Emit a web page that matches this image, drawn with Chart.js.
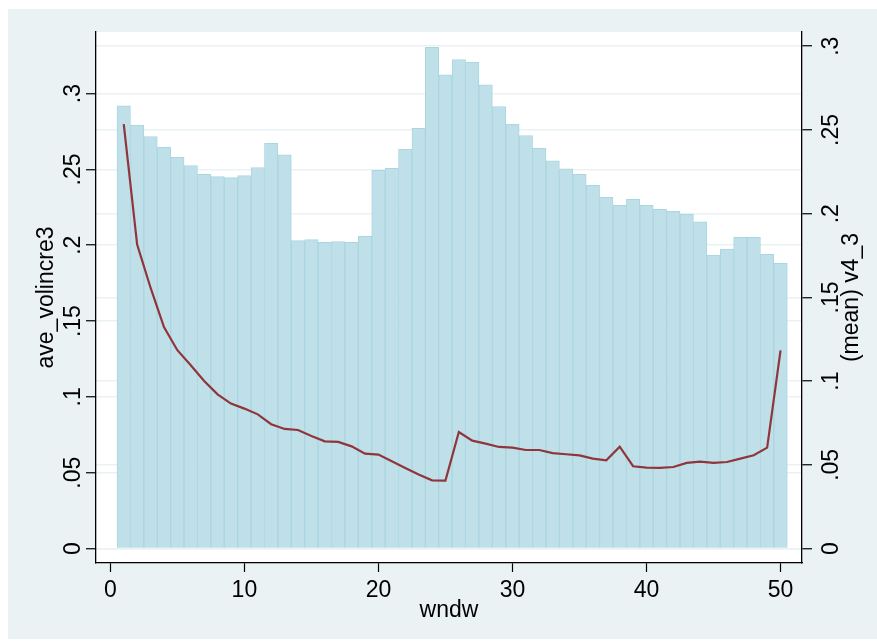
<!DOCTYPE html>
<html>
<head>
<meta charset="utf-8">
<script src="https://cdn.jsdelivr.net/npm/chart.js@4.4.1/dist/chart.umd.min.js"></script>
<style>
  body { margin: 0; background: #ffffff; }
  canvas { display: block; }
</style>
</head>
<body>
<canvas id="myChart" width="877" height="644"></canvas>
<script>
// window number (x axis)
var wndw = [1, 2, 3, 4, 5, 6, 7, 8, 9, 10,
            11, 12, 13, 14, 15, 16, 17, 18, 19, 20,
            21, 22, 23, 24, 25, 26, 27, 28, 29, 30,
            31, 32, 33, 34, 35, 36, 37, 38, 39, 40,
            41, 42, 43, 44, 45, 46, 47, 48, 49, 50];

// bars: (mean) v4_3, right axis
var meanV4 = [0.2644, 0.2529, 0.2461, 0.2396, 0.2336, 0.2288, 0.2235, 0.2221, 0.2215, 0.2227,
              0.2276, 0.2420, 0.2352, 0.1839, 0.1845, 0.1829, 0.1833, 0.1829, 0.1865, 0.2259,
              0.2271, 0.2384, 0.2509, 0.2994, 0.2829, 0.2921, 0.2905, 0.2769, 0.2640, 0.2535,
              0.2467, 0.2390, 0.2316, 0.2268, 0.2235, 0.2169, 0.2097, 0.2050, 0.2086, 0.2050,
              0.2026, 0.2014, 0.1996, 0.1952, 0.1753, 0.1789, 0.1859, 0.1859, 0.1758, 0.1704];

// line: ave_volincre3, left axis
var aveVol = [0.2798, 0.2004, 0.1720, 0.1461, 0.1308, 0.1209, 0.1105, 0.1017, 0.0956, 0.0923,
              0.0885, 0.0820, 0.0789, 0.0782, 0.0743, 0.0707, 0.0703, 0.0674, 0.0626, 0.0620,
              0.0576, 0.0532, 0.0488, 0.0450, 0.0448, 0.0769, 0.0712, 0.0692, 0.0670, 0.0666,
              0.0650, 0.0650, 0.0630, 0.0622, 0.0615, 0.0593, 0.0582, 0.0672, 0.0543, 0.0534,
              0.0532, 0.0538, 0.0565, 0.0574, 0.0565, 0.0571, 0.0593, 0.0615, 0.0666, 0.1307];

var xTicks = [0, 10, 20, 30, 40, 50];
var xTickLabels = ['0', '10', '20', '30', '40', '50'];
var yTicks = [0, 0.05, 0.1, 0.15, 0.2, 0.25, 0.3];
var yTickLabels = ['0', '.05', '.1', '.15', '.2', '.25', '.3'];

var FONT = '23px "Liberation Sans", Arial, sans-serif';
var BG = '#eaf2f3';

function fixTicks(values) {
    return function (axis) {
        axis.ticks = values.map(function (v) { return { value: v }; });
    };
}

// stata style background and rotated axis text
var stataLook = {
    id: 'stataLook',
    beforeDraw: function (chart) {
        var ctx = chart.ctx, a = chart.chartArea;
        ctx.save();
        ctx.fillStyle = '#ffffff';
        ctx.fillRect(0, 0, chart.width, chart.height);
        ctx.fillStyle = BG;
        ctx.fillRect(8, 9, chart.width - 8, 630);
        ctx.fillStyle = '#ffffff';
        ctx.fillRect(a.left, a.top, a.right - a.left, a.bottom - a.top);
        ctx.restore();
    },
    afterDraw: function (chart) {
        var ctx = chart.ctx, a = chart.chartArea;
        var sx = chart.scales.x, yl = chart.scales.yL, yr = chart.scales.yR;
        var midY = (a.top + a.bottom) / 2;
        ctx.save();
        ctx.fillStyle = '#000000';
        ctx.font = FONT;
        ctx.textAlign = 'center';
        ctx.textBaseline = 'alphabetic';

        xTicks.forEach(function (v, i) {
            ctx.fillText(xTickLabels[i], sx.getPixelForValue(v), 597);
        });
        ctx.fillText('wndw', (a.left + a.right) / 2, 617);

        function vText(txt, x, y) {
            ctx.save();
            ctx.translate(x, y);
            ctx.rotate(-Math.PI / 2);
            ctx.fillText(txt, 0, 0);
            ctx.restore();
        }
        yTicks.forEach(function (v, i) {
            vText(yTickLabels[i], 80, yl.getPixelForValue(v));
            vText(yTickLabels[i], 838, yr.getPixelForValue(v));
        });
        vText('ave_volincre3', 53, midY);
        vText('(mean) v4_3', 857.5, midY);
        ctx.restore();
    }
};

var ctx = document.getElementById('myChart').getContext('2d');
var myChart = new Chart(ctx, {
    type: 'bar',
    data: {
        datasets: [{
            type: 'line',
            label: 'ave_volincre3',
            data: wndw.map(function (w, i) { return { x: w, y: aveVol[i] }; }),
            yAxisID: 'yL',
            borderColor: '#90353b',
            borderWidth: 2.2,
            pointRadius: 0,
            tension: 0,
            fill: false,
            order: 0
        }, {
            type: 'bar',
            label: '(mean) v4_3',
            data: wndw.map(function (w, i) { return { x: w, y: meanV4[i] }; }),
            yAxisID: 'yR',
            backgroundColor: 'rgb(191,224,233)',
            borderColor: 'rgb(170,213,226)',
            borderWidth: 1,
            categoryPercentage: 1,
            barPercentage: 1,
            order: 1
        }]
    },
    options: {
        responsive: false,
        animation: false,
        devicePixelRatio: 1,
        layout: { padding: { top: 32, left: 0, right: 0, bottom: 0 } },
        plugins: { legend: { display: false }, tooltip: { enabled: false } },
        scales: {
            x: {
                type: 'linear',
                min: -1.07,
                max: 51.6,
                offset: false,
                afterBuildTicks: fixTicks(xTicks),
                afterFit: function (s) { s.height = 81; },
                ticks: { display: false },
                grid: { offset: false, drawOnChartArea: false, drawTicks: true, tickLength: 9, tickColor: '#000', tickWidth: 1.2 },
                border: { display: true, color: '#000', width: 1.3 }
            },
            yL: {
                type: 'linear',
                position: 'left',
                min: -0.0095,
                max: 0.3406,
                afterBuildTicks: fixTicks(yTicks),
                afterFit: function (s) { s.width = 96; },
                ticks: { display: false },
                grid: { color: BG, lineWidth: 1.5, tickLength: 10, tickColor: '#000', tickWidth: 1.2 },
                border: { display: true, color: '#000', width: 1.3 }
            },
            yR: {
                type: 'linear',
                position: 'right',
                min: -0.0086,
                max: 0.3085,
                afterBuildTicks: fixTicks(yTicks),
                afterFit: function (s) { s.width = 75; },
                ticks: { display: false },
                grid: { color: BG, lineWidth: 1.5, tickLength: 10, tickColor: '#000', tickWidth: 1.2 },
                border: { display: true, color: '#000', width: 1.3 }
            }
        }
    },
    plugins: [stataLook]
});
</script>
</body>
</html>
